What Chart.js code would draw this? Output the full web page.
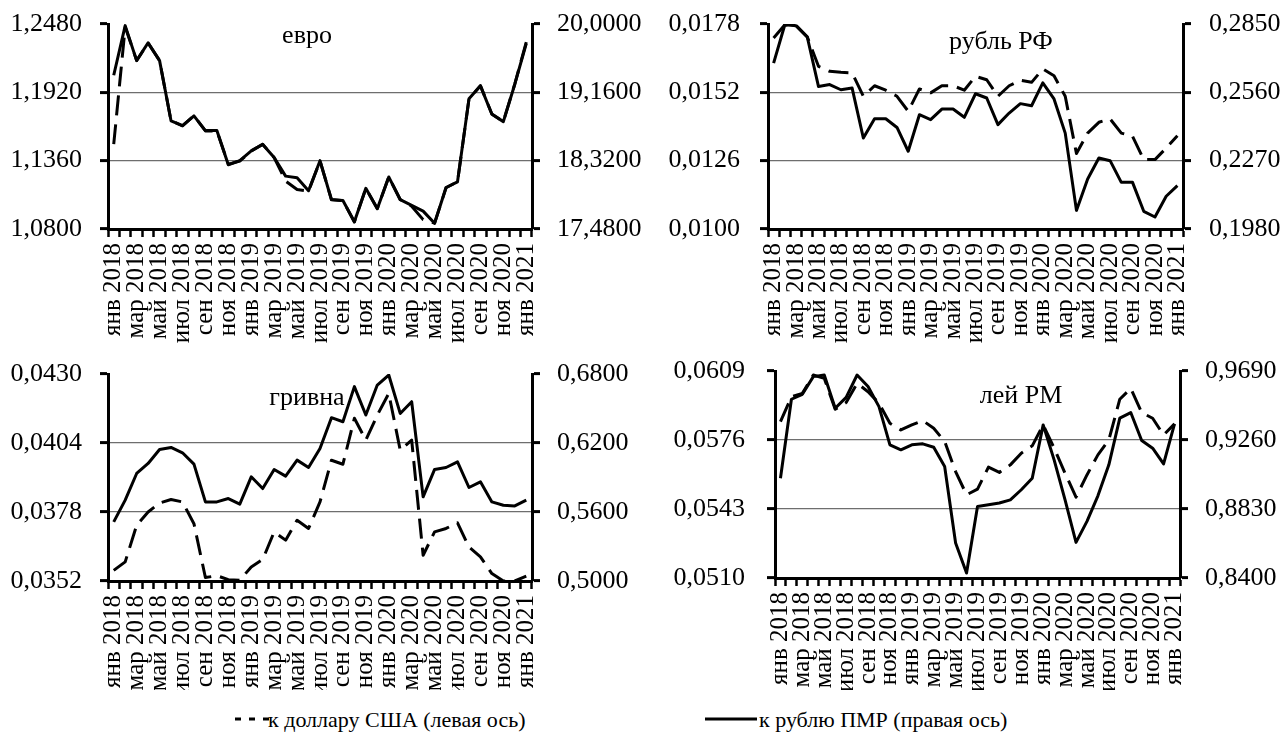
<!DOCTYPE html>
<html><head><meta charset="utf-8">
<script src="https://cdn.jsdelivr.net/npm/chart.js@4.4.0/dist/chart.umd.min.js"></script>
<style>
html,body{margin:0;padding:0;background:#fff;}
body{width:1283px;height:744px;overflow:hidden;position:relative;font-family:'Liberation Serif',serif;color:#000;}
.p{position:absolute;}
.lg{position:absolute;font-size:22px;white-space:nowrap;line-height:1;}
</style></head><body>
<div class="p" style="left:0;top:0;width:660px;height:345px"><canvas id="c1"></canvas></div>
<div class="p" style="left:650px;top:0;width:633px;height:345px"><canvas id="c2"></canvas></div>
<div class="p" style="left:0;top:345px;width:660px;height:345px"><canvas id="c3"></canvas></div>
<div class="p" style="left:650px;top:345px;width:633px;height:345px"><canvas id="c4"></canvas></div>
<svg class="p" style="left:235px;top:716px" width="34" height="6"><line x1="0" y1="3" x2="34" y2="3" stroke="#000" stroke-width="3" stroke-dasharray="6,8"/></svg>
<div class="lg" style="left:268px;top:709px">к доллару США (левая ось)</div>
<svg class="p" style="left:705px;top:716px" width="52" height="6"><line x1="0" y1="3" x2="52" y2="3" stroke="#000" stroke-width="3"/></svg>
<div class="lg" style="left:759px;top:709px">к рублю ПМР (правая ось)</div>
<script>
const FONT = "'Liberation Serif', 'Times New Roman', serif";

const categories = [
  'янв 2018','фев 2018','мар 2018','апр 2018','май 2018','июн 2018','июл 2018','авг 2018','сен 2018','окт 2018','ноя 2018','дек 2018',
  'янв 2019','фев 2019','мар 2019','апр 2019','май 2019','июн 2019','июл 2019','авг 2019','сен 2019','окт 2019','ноя 2019','дек 2019',
  'янв 2020','фев 2020','мар 2020','апр 2020','май 2020','июн 2020','июл 2020','авг 2020','сен 2020','окт 2020','ноя 2020','дек 2020',
  'янв 2021'
];

// евро
const eurUsd = [1.1495,1.2455,1.2181,1.2324,1.2181,1.1687,1.1646,1.1728,1.1604,1.1604,1.1330,1.1357,1.1440,1.1495,1.1385,1.1193,1.1124,1.1110,1.1357,1.1042,1.1033,1.0858,1.1132,1.0968,1.1226,1.1042,1.0987,1.0877,1.0849,1.1138,1.1187,1.1865,1.1975,1.1742,1.1681,1.1989,1.2332];
const eurPmr = [19.37,19.98,19.55,19.77,19.55,18.81,18.75,18.87,18.69,18.69,18.27,18.32,18.44,18.52,18.36,18.13,18.11,17.95,18.32,17.84,17.83,17.57,17.98,17.73,18.12,17.84,17.77,17.70,17.55,17.99,18.06,19.08,19.24,18.89,18.80,19.26,19.76];
const eurLeftTicks = [1.0800,1.1360,1.1920,1.2480];
const eurRightTicks = [17.48,18.32,19.16,20.00];

// рубль РФ
const rubUsd = [0.01727,0.01777,0.01774,0.01731,0.01619,0.01600,0.01596,0.01594,0.01505,0.01545,0.01528,0.01505,0.01448,0.01533,0.01518,0.01545,0.01545,0.01528,0.01581,0.01568,0.01505,0.01545,0.01566,0.01558,0.01609,0.01583,0.01505,0.01287,0.01365,0.01406,0.01419,0.01365,0.01353,0.01264,0.01264,0.01308,0.01355];
const rubPmr = [0.2684,0.2847,0.2843,0.2795,0.2585,0.2593,0.2571,0.2578,0.2366,0.2448,0.2448,0.2411,0.2310,0.2465,0.2444,0.2489,0.2489,0.2454,0.2554,0.2536,0.2423,0.2472,0.2512,0.2503,0.2600,0.2532,0.2387,0.2059,0.2192,0.2281,0.2270,0.2178,0.2178,0.2055,0.2031,0.2119,0.2164];
const rubLeftTicks = [0.0100,0.0126,0.0152,0.0178];
const rubRightTicks = [0.1980,0.2270,0.2560,0.2850];

// гривна
const uahUsd = [0.03560,0.03592,0.03730,0.03780,0.03814,0.03827,0.03818,0.03736,0.03533,0.03540,0.03525,0.03523,0.03573,0.03601,0.03705,0.03674,0.03749,0.03718,0.03818,0.03975,0.03960,0.04133,0.04051,0.04145,0.04227,0.04013,0.04051,0.03617,0.03705,0.03718,0.03739,0.03648,0.03611,0.03548,0.03520,0.03520,0.03538];
const uahPmr = [0.5514,0.5703,0.5935,0.6022,0.6144,0.6161,0.6115,0.6016,0.5688,0.5688,0.5717,0.5668,0.5906,0.5804,0.5970,0.5912,0.6051,0.5987,0.6153,0.6420,0.6385,0.6690,0.6443,0.6704,0.6791,0.6457,0.6559,0.5732,0.5970,0.5987,0.6036,0.5813,0.5862,0.5688,0.5659,0.5653,0.5703];
const uahLeftTicks = [0.0352,0.0378,0.0404,0.0430];
const uahRightTicks = [0.5000,0.5600,0.6200,0.6800];

// лей РМ
const mdlUsd = [0.05848,0.05967,0.05983,0.06071,0.06055,0.05907,0.05939,0.06031,0.05991,0.05936,0.05840,0.05808,0.05832,0.05853,0.05816,0.05753,0.05609,0.05498,0.05525,0.05630,0.05605,0.05641,0.05697,0.05732,0.05832,0.05721,0.05601,0.05487,0.05593,0.05689,0.05761,0.05955,0.06007,0.05891,0.05864,0.05784,0.05837];
const mdlPmr = [0.9022,0.9514,0.9545,0.9655,0.9665,0.9458,0.9526,0.9665,0.9593,0.9468,0.9230,0.9199,0.9230,0.9236,0.9215,0.9095,0.8618,0.8431,0.8846,0.8856,0.8867,0.8887,0.8950,0.9022,0.9354,0.9136,0.8887,0.8622,0.8753,0.8912,0.9105,0.9396,0.9431,0.9257,0.9209,0.9111,0.9360];
const mdlLeftTicks = [0.0510,0.0543,0.0576,0.0609];
const mdlRightTicks = [0.8400,0.8830,0.9260,0.9690];

const titles = ['евро','рубль РФ','гривна','лей РМ'];
const seriesNames = ['к доллару США (левая ось)','к рублю ПМР (правая ось)'];

function fmt(v){ return Number(v).toFixed(4).replace('.', ','); }

const titlePlugin = {
  id:'ptitle',
  beforeDatasetsDraw(chart){
    const o = chart.options.plugins.ptitle;
    const c = chart.ctx;
    c.save();
    c.font = o.size + 'px ' + FONT;
    c.fillStyle = '#000';
    c.textAlign = 'center';
    c.textBaseline = 'alphabetic';
    c.fillText(o.text, o.x, o.y);
    c.restore();
  }
};

function yAxis(pos, ticksArr, width, onArea, pad){
  return {
    position: pos,
    min: ticksArr[0], max: ticksArr[ticksArr.length-1],
    afterBuildTicks: (s) => { s.ticks = ticksArr.map(v => ({value: v})); },
    grid: {
      drawOnChartArea: onArea,
      color: (c) => (c.index === 0 || c.index === ticksArr.length-1) ? 'rgba(0,0,0,0)' : '#6e6e6e',
      lineWidth: 1.2,
      tickColor: '#000', tickWidth: 3, tickLength: 8
    },
    border: {display: true, color: '#000', width: 3},
    ticks: {color: '#000', font: {family: FONT, size: 26}, padding: pad, callback: (v) => fmt(v)},
    afterFit: (s) => { s.width = width; s.paddingTop = 0; s.paddingBottom = 0; }
  };
}

function makePanel(cfg){
  return new Chart(document.getElementById(cfg.id), {
    type: 'line',
    data: {
      labels: categories,
      datasets: [
        {label: seriesNames[0], data: cfg.usd, yAxisID: 'yL', borderColor: '#000', borderWidth: 3, borderDash: [20, 9], pointRadius: 0, tension: 0, fill: false, borderCapStyle: 'butt', borderJoinStyle: 'round'},
        {label: seriesNames[1], data: cfg.pmr, yAxisID: 'yR', borderColor: '#000', borderWidth: 3, pointRadius: 0, tension: 0, fill: false, borderJoinStyle: 'round'}
      ]
    },
    options: {
      responsive: true, maintainAspectRatio: false, animation: false, events: [],
      layout: {padding: {top: cfg.top, left: 0, right: 0, bottom: 0}},
      plugins: {
        legend: {display: false}, tooltip: {enabled: false},
        ptitle: {text: cfg.title, x: cfg.tx, y: cfg.ty, size: 26}
      },
      scales: {
        x: {
          type: 'category', offset: true,
          grid: {offset: true, drawOnChartArea: false, drawTicks: true, tickLength: 8, tickWidth: 2.5, tickColor: '#000', color: '#000'},
          border: {display: true, color: '#000', width: 3},
          ticks: {autoSkip: false, maxRotation: 90, minRotation: 90, padding: 6, color: '#000', font: {family: FONT, size: 25},
                  callback: (v, i) => (i % 2 === 0 ? categories[i] : '')},
          afterFit: (s) => { s.height = cfg.xH; s.paddingLeft = 0; s.paddingRight = 0; }
        },
        yL: yAxis('left', cfg.lt, cfg.lw, true, cfg.lp),
        yR: yAxis('right', cfg.rt, cfg.rw, false, cfg.rp)
      }
    },
    plugins: [titlePlugin]
  });
}

makePanel({id:'c1', usd:eurUsd, pmr:eurPmr, lt:eurLeftTicks, rt:eurRightTicks, title:titles[0], tx:307, ty:43, lw:108, rw:128, top:24, xH:116, lp:18, rp:17});
makePanel({id:'c2', usd:rubUsd, pmr:rubPmr, lt:rubLeftTicks, rt:rubRightTicks, title:titles[1], tx:351, ty:49, lw:118, rw:100, top:24, xH:116, lp:20, rp:18});
makePanel({id:'c3', usd:uahUsd, pmr:uahPmr, lt:uahLeftTicks, rt:uahRightTicks, title:titles[2], tx:307, ty:60, lw:108, rw:128, top:29, xH:109, lp:18, rp:17});
makePanel({id:'c4', usd:mdlUsd, pmr:mdlPmr, lt:mdlLeftTicks, rt:mdlRightTicks, title:titles[3], tx:371, ty:58, lw:125, rw:103, top:26, xH:112, lp:22, rp:17});
</script>
</body></html>
